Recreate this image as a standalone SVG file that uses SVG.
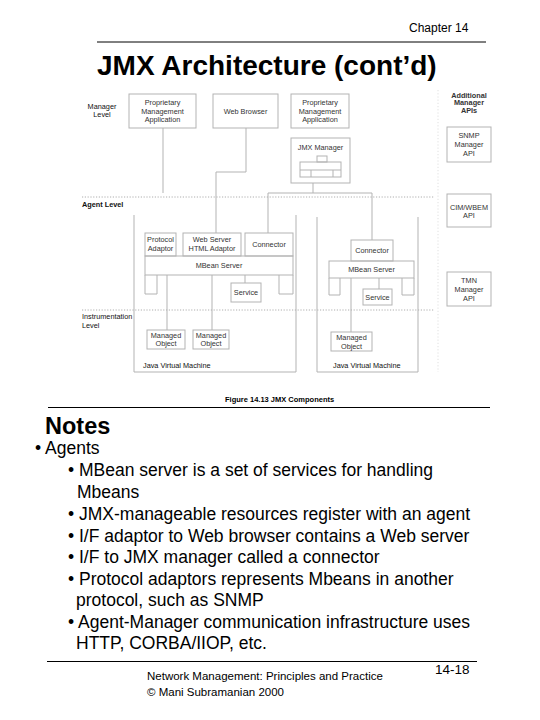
<svg xmlns="http://www.w3.org/2000/svg" width="540" height="720" viewBox="0 0 540 720">
<style>
.bx{fill:none;stroke:#b3b3b3;stroke-width:1}
.ln{fill:none;stroke:#b3b3b3;stroke-width:1}
.dl{fill:none;stroke:#9a9a9a;stroke-width:0.8;stroke-dasharray:1.2 1.6}
.vd{fill:none;stroke:#d8d8d8;stroke-width:0.8;stroke-dasharray:1.2 2}
.t{font-family:"Liberation Sans",Arial,sans-serif;font-size:7.3px;fill:#333;text-anchor:middle}
.lv{font-family:"Liberation Sans",Arial,sans-serif;font-size:7.3px;fill:#111}
.b{font-weight:bold}
.nt{font-family:"Liberation Sans",Arial,sans-serif;font-size:17.5px;fill:#000}
.hd{font-family:"Liberation Sans",Arial,sans-serif;fill:#000}
.rule{stroke:#000;stroke-width:1}
</style>
<rect width="540" height="720" fill="#fff"/>

<g id="header">
<text class="hd" x="409" y="32" font-size="12">Chapter 14</text>
<line class="rule" x1="97" y1="42" x2="486" y2="42"/>
<text class="hd" x="97" y="75" font-size="28" font-weight="bold">JMX Architecture (cont’d)</text>
</g>

<g id="levels">
<line class="dl" x1="82" y1="197" x2="434" y2="197"/>
<line class="dl" x1="82" y1="310" x2="434" y2="310"/>
<line class="vd" x1="438" y1="90" x2="438" y2="372"/>
<text class="lv" x="102" y="108.5" text-anchor="middle">Manager</text>
<text class="lv" x="102" y="117" text-anchor="middle">Level</text>
<text class="lv b" x="82" y="207">Agent Level</text>
<text class="lv" x="82" y="319">Instrumentation</text>
<text class="lv" x="82" y="328">Level</text>
</g>

<g id="connectors">
<path class="ln" d="M163,128 V193"/>
<path class="ln" d="M246,128 V172 H216 V233"/>
<path class="ln" d="M313,183 V193"/>
<path class="ln" d="M268,233 V193 H372 V240"/>
<path class="ln" d="M245,275 V283"/>
<path class="ln" d="M167,275 V330"/>
<path class="ln" d="M212,275 V330"/>
<path class="ln" d="M379,278 V289"/>
<path class="ln" d="M351,278 V332"/>
</g>

<g id="prop-app-1">
<rect class="bx" x="129" y="94" width="67" height="34"/>
<text class="t" x="162.5" y="105">Proprietary</text>
<text class="t" x="162.5" y="113.6">Management</text>
<text class="t" x="162.5" y="122.3">Application</text>
</g>

<g id="web-browser">
<rect class="bx" x="213" y="94" width="65" height="34"/>
<text class="t" x="245.5" y="113.6">Web Browser</text>
</g>

<g id="prop-app-2">
<rect class="bx" x="291" y="94" width="58" height="34"/>
<text class="t" x="320" y="105">Proprietary</text>
<text class="t" x="320" y="113.6">Management</text>
<text class="t" x="320" y="122.3">Application</text>
</g>

<g id="jmx-manager">
<rect class="bx" x="291" y="138" width="59" height="45"/>
<text class="t" x="320.5" y="150">JMX Manager</text>
<rect class="bx" x="317" y="156" width="10" height="6"/>
<rect class="bx" x="300" y="162" width="41" height="15"/>
<path class="ln" d="M300,170 H341 M311,170 V177 M333,170 V177"/>
</g>

<g id="jvm-1">
<path class="bx" d="M134,215 V372 H296 V215"/>
<text class="lv" x="143" y="368" fill="#333">Java Virtual Machine</text>
</g>

<g id="protocol-adaptor">
<rect class="bx" x="145" y="233" width="31" height="23"/>
<text class="t" x="160.5" y="242">Protocol</text>
<text class="t" x="160.5" y="251">Adaptor</text>
</g>

<g id="html-adaptor">
<rect class="bx" x="183" y="233" width="58" height="23"/>
<text class="t" x="212" y="242">Web Server</text>
<text class="t" x="212" y="251">HTML Adaptor</text>
</g>

<g id="connector-1">
<rect class="bx" x="245" y="233" width="48" height="23"/>
<text class="t" x="269" y="246.5">Connector</text>
</g>

<g id="mbean-server-1">
<rect class="bx" x="145" y="256" width="148" height="19"/>
<text class="t" x="219" y="268">MBean Server</text>
<path class="bx" d="M145,275 V294 H157 V275 M279,275 V294 H293 V275"/>
</g>

<g id="service-1">
<rect class="bx" x="231" y="283" width="30" height="19"/>
<text class="t" x="246" y="295">Service</text>
</g>

<g id="managed-object-1">
<rect class="bx" x="147" y="330" width="38" height="19"/>
<text class="t" x="166" y="337.5">Managed</text>
<text class="t" x="166" y="346">Object</text>
</g>

<g id="managed-object-2">
<rect class="bx" x="193" y="330" width="36" height="19"/>
<text class="t" x="211" y="337.5">Managed</text>
<text class="t" x="211" y="346">Object</text>
</g>

<g id="jvm-2">
<path class="bx" d="M317,217 V372 H418 V217"/>
<text class="lv" x="333" y="368" fill="#333">Java Virtual Machine</text>
</g>

<g id="connector-2">
<rect class="bx" x="351" y="240" width="42" height="21"/>
<text class="t" x="372" y="253">Connector</text>
</g>

<g id="mbean-server-2">
<rect class="bx" x="329" y="261" width="85" height="17"/>
<text class="t" x="371.5" y="272">MBean Server</text>
<path class="bx" d="M329,278 V295 H340 V278 M402,278 V295 H414 V278"/>
</g>

<g id="service-2">
<rect class="bx" x="363" y="289" width="29" height="16"/>
<text class="t" x="377.5" y="299.5">Service</text>
</g>

<g id="managed-object-3">
<rect class="bx" x="331" y="332" width="41" height="19"/>
<text class="t" x="351.5" y="340">Managed</text>
<text class="t" x="351.5" y="348.5">Object</text>
</g>

<g id="additional-apis">
<text class="t b" x="469" y="97.5" fill="#111">Additional</text>
<text class="t b" x="469" y="105" fill="#111">Manager</text>
<text class="t b" x="469" y="112.5" fill="#111">APIs</text>
</g>

<g id="snmp-api">
<rect class="bx" x="447" y="127" width="44" height="35"/>
<text class="t" x="469" y="137.5">SNMP</text>
<text class="t" x="469" y="146.5">Manager</text>
<text class="t" x="469" y="155.5">API</text>
</g>

<g id="cim-api">
<rect class="bx" x="447" y="194" width="44" height="33"/>
<text class="t" x="469" y="209.5">CIM/WBEM</text>
<text class="t" x="469" y="218">API</text>
</g>

<g id="tmn-api">
<rect class="bx" x="447" y="272" width="44" height="34"/>
<text class="t" x="469" y="282.5">TMN</text>
<text class="t" x="469" y="291.5">Manager</text>
<text class="t" x="469" y="300.5">API</text>
</g>

<g id="caption">
<text class="hd" x="225" y="402" font-size="7.5" font-weight="bold">Figure 14.13 JMX Components</text>
<line class="rule" x1="48" y1="407.5" x2="490" y2="407.5"/>
</g>

<g id="notes">
<text class="hd" x="45" y="434" font-size="23.5" font-weight="bold">Notes</text>
<text class="nt" x="35" y="454">• Agents</text>
<text class="nt" x="68" y="476">• MBean server is a set of services for handling</text>
<text class="nt" x="77" y="498">Mbeans</text>
<text class="nt" x="68" y="519.5">• JMX-manageable resources register with an agent</text>
<text class="nt" x="68" y="541.5">• I/F adaptor to Web browser contains a Web server</text>
<text class="nt" x="68" y="563">• I/F to JMX manager called a connector</text>
<text class="nt" x="68" y="584.5">• Protocol adaptors represents Mbeans in another</text>
<text class="nt" x="76" y="606">protocol, such as SNMP</text>
<text class="nt" x="68" y="627.5">• Agent-Manager communication infrastructure uses</text>
<text class="nt" x="76" y="649">HTTP, CORBA/IIOP, etc.</text>
</g>

<g id="footer">
<line class="rule" x1="47" y1="661.5" x2="477" y2="661.5"/>
<text class="hd" x="147" y="680" font-size="11.5">Network Management: Principles and Practice</text>
<text class="hd" x="147" y="696" font-size="11.5">©  Mani Subramanian 2000</text>
<text class="hd" x="435" y="674" font-size="13.5">14-18</text>
</g>
</svg>
